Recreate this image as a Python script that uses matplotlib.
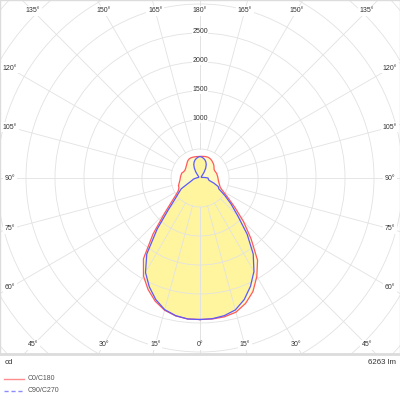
import numpy as np
import matplotlib
matplotlib.use('Agg')
import matplotlib.pyplot as plt
from matplotlib.patches import Circle

plt.rcParams['font.family'] = ['Liberation Sans', 'DejaVu Sans']

# luminous intensity (cd) vs gamma angle (0 = straight down), every 5 deg
gamma = np.arange(0, 181, 5)
c0 = [2440, 2440, 2430, 2395, 2300, 2160, 1960, 1730, 1370, 1060, 780, 585, 460, 385,
      360, 340, 325, 315, 310, 305, 300, 298, 290, 283, 283, 295, 315, 332, 345, 360,
      372, 380, 384, 382, 378, 375, 372]
c180 = [2440, 2440, 2415, 2360, 2260, 2120, 1950, 1700, 1260, 870, 640, 505, 430, 400,
        395, 375, 358, 346, 340, 335, 330, 326, 305, 294, 294, 300, 312, 325, 345, 365,
        378, 382, 380, 377, 374, 372, 372]
c90 = [2440, 2435, 2410, 2355, 2230, 2060, 1860, 1600, 1265, 920, 700, 520, 375, 345,
       250, 165, 148, 143, 138, 90, 55, 35, 28, 25, 25, 25, 28, 35, 60, 125,
       195, 255, 295, 325, 345, 362, 370]
c270 = [2440, 2440, 2410, 2350, 2230, 2070, 1880, 1600, 1150, 770, 560, 450, 375, 235,
        170, 135, 117, 85, 62, 48, 38, 32, 28, 25, 25, 25, 28, 35, 60, 125,
        195, 255, 295, 325, 345, 362, 370]

rings = np.arange(500, 5001, 500)
ring_labels = [1000, 1500, 2000, 2500]
spokes = np.arange(0, 181, 15)
lumens = "6263 lm"

S = 0.058  # px per cd
fig = plt.figure(figsize=(4, 4), dpi=100)
ax = fig.add_axes([0, 46 / 400, 1, 354 / 400])
ax.set_xlim(-200 / S, 200 / S)
ax.set_ylim(-176 / S, 178 / S)
ax.set_xticks([])
ax.set_yticks([])
for sp in ax.spines.values():
    sp.set_color('#dcdcdc')
    sp.set_linewidth(1.0)
ax.spines['bottom'].set_linewidth(2.0)


def outline(right, left):
    g = np.radians(gamma)
    r_r = np.array(right, dtype=float)
    r_l = np.array(left, dtype=float)[::-1]
    gl = g[::-1]
    x = np.concatenate([r_r * np.sin(g), -r_l * np.sin(gl)])
    y = np.concatenate([-r_r * np.cos(g), -r_l * np.cos(gl)])
    return x, y


xr, yr = outline(c0, c180)
xb, yb = outline(c90, c270)
ax.fill(xr, yr, color='#fff064', alpha=0.38, lw=0, zorder=1)
ax.fill(xb, yb, color='#fff064', alpha=0.38, lw=0, zorder=1)

# grid
grid_c = '#e2e2e2'
for r in rings:
    ax.add_patch(Circle((0, 0), r, fill=False, ec=grid_c, lw=0.6, zorder=2))
for a in spokes:
    t = np.radians(a)
    for sgn in (1, -1):
        ax.plot([sgn * 500 * np.sin(t), sgn * 6000 * np.sin(t)],
                [-500 * np.cos(t), -6000 * np.cos(t)], color=grid_c, lw=0.6, zorder=2)

ax.plot(xr, yr, color='#ff5a5a', lw=0.9, zorder=4)
ax.plot(xb, yb, color='#5a5aff', lw=0.9, zorder=4)

box = dict(facecolor='white', edgecolor='none', pad=1.2)
for v in ring_labels:
    ax.text(0, v + 20, str(v), ha='center', va='center', fontsize=5.0,
            color='#333333', bbox=dict(facecolor='white', edgecolor='none', pad=0.4),
            zorder=5)

# angle labels on the inner rectangle
hx, hy = 190 / S, 167 / S
for a in spokes:
    t = np.radians(a)
    dx, dy = np.sin(t), -np.cos(t)
    k = min(hx / abs(dx) if abs(dx) > 1e-9 else np.inf,
            hy / abs(dy) if abs(dy) > 1e-9 else np.inf)
    sides = (1,) if a in (0, 180) else (1, -1)
    for sgn in sides:
        ax.text(sgn * k * dx, k * dy, f"{a}°", ha='center', va='center',
                fontsize=5.0, color='#333333', bbox=box, zorder=5)

# footer
fx = fig.add_axes([0, 0, 1, 46 / 400])
fx.set_xlim(0, 400)
fx.set_ylim(46, 0)
fx.axis('off')
fx.text(5, 8, "cd", ha='left', va='center', fontsize=5.7, color='#333333')
fx.text(396, 8, lumens, ha='right', va='center', fontsize=5.7, color='#333333')
fx.plot([4, 24], [25, 25], color='#ff8c8c', lw=1.0)
fx.plot([4, 24], [37, 37], color='#8c8cff', lw=1.0, ls=(0, (3, 2)))
fx.text(28, 25, "C0/C180", ha='left', va='center', fontsize=5.0, color='#555555')
fx.text(28, 37, "C90/C270", ha='left', va='center', fontsize=5.0, color='#555555')

fig.savefig('out.png', dpi=100)
